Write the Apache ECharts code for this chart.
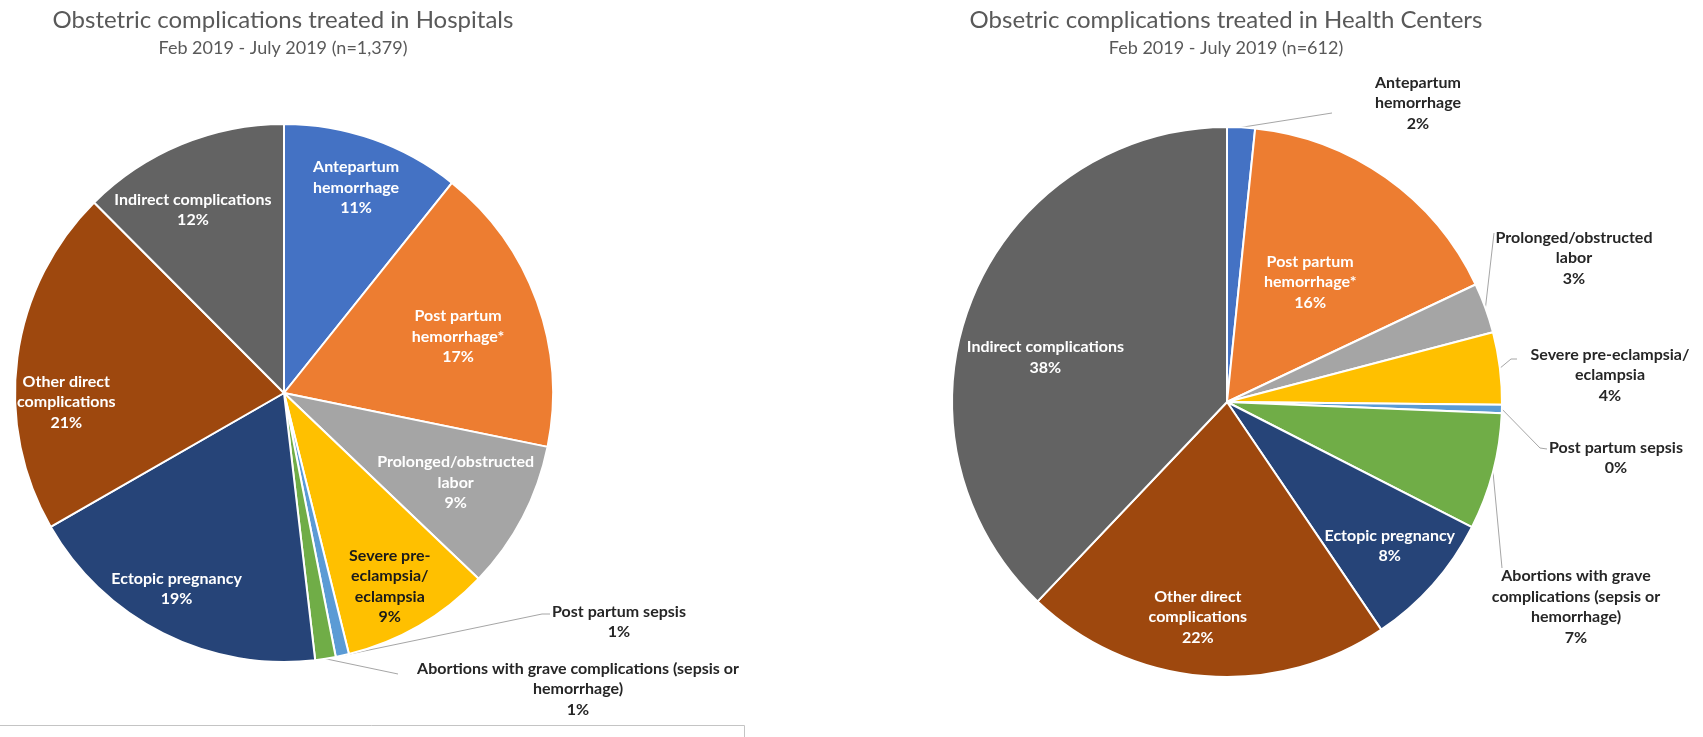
<!DOCTYPE html>
<html>
<head>
<meta charset="utf-8">
<title>Obstetric complications treated</title>
<script src="https://cdn.jsdelivr.net/npm/echarts@6/dist/echarts.min.js"></script>
<style>
  html, body { margin: 0; padding: 0; background: #ffffff; }
  #chart { width: 1703px; height: 737px; }
</style>
</head>
<body>
<div id="chart"></div>
<script>
// Complication categories, in clockwise order from 12 o'clock
const categories = [
  'Antepartum hemorrhage',
  'Post partum hemorrhage*',
  'Prolonged/obstructed labor',
  'Severe pre-eclampsia/eclampsia',
  'Post partum sepsis',
  'Abortions with grave complications (sepsis or hemorrhage)',
  'Ectopic pregnancy',
  'Other direct complications',
  'Indirect complications'
];

// Cases treated, Feb 2019 - July 2019
const hospitalCounts = [148, 241, 123, 124, 11, 17, 256, 287, 172];      // n = 1,379
const healthCenterCounts = [10, 100, 18, 26, 3, 42, 49, 132, 232];      // n = 612

// Label text (line-wrapped) for each pie
const hospitalLabels = [
  'Antepartum\nhemorrhage',
  'Post partum\nhemorrhage*',
  'Prolonged/obstructed\nlabor',
  'Severe pre-\neclampsia/\neclampsia',
  'Post partum sepsis',
  'Abortions with grave complications (sepsis or\nhemorrhage)',
  'Ectopic pregnancy',
  'Other direct\ncomplications',
  'Indirect complications'
];
const healthCenterLabels = [
  'Antepartum\nhemorrhage',
  'Post partum\nhemorrhage*',
  'Prolonged/obstructed\nlabor',
  'Severe pre-eclampsia/\neclampsia',
  'Post partum sepsis',
  'Abortions with grave\ncomplications (sepsis or\nhemorrhage)',
  'Ectopic pregnancy',
  'Other direct\ncomplications',
  'Indirect complications'
];

const sliceColors = ['#4472C4', '#ED7D31', '#A5A5A5', '#FFC000', '#5B9BD5',
                     '#70AD47', '#264478', '#9E480E', '#636363'];

// Layout of each pie and its labels.
// inside: index -> [fraction of radius, angle shift in degrees from slice middle]
// outside: index -> label block centre and leader-line points after the slice edge
const pies = [
  {
    title: 'Obstetric complications treated in Hospitals',
    subtitle: 'Feb 2019 - July 2019 (n=1,379)',
    center: [284, 393], radius: 269,
    counts: hospitalCounts, labels: hospitalLabels,
    inside: { 0: [0.81, 0], 1: [0.68, 2], 2: [0.72, 0], 3: [0.82, 1.5],
              6: [0.83, 2], 7: [0.81, -10], 8: [0.76, -4] },
    darkInside: [3],
    outside: {
      4: { x: 619, y: 622, line: [[542, 614], [550, 614]] },
      5: { x: 578, y: 689, line: [[398, 674]] }
    }
  },
  {
    title: 'Obsetric complications treated in Health Centers',
    subtitle: 'Feb 2019 - July 2019 (n=612)',
    center: [1227, 402], radius: 275,
    counts: healthCenterCounts, labels: healthCenterLabels,
    inside: { 1: [0.53, -0.5], 6: [0.79, 0], 7: [0.79, 3], 8: [0.68, -8] },
    darkInside: [],
    outside: {
      0: { x: 1418, y: 103, line: [[1332, 113]] },
      2: { x: 1574, y: 258, line: [[1494, 233]] },
      3: { x: 1610, y: 375, line: [[1511, 359], [1517, 359]] },
      4: { x: 1616, y: 458, line: [[1540, 448], [1547, 449]] },
      5: { x: 1576, y: 607, line: [[1502, 568]] }
    }
  }
];

const FONT = 'Lato, "Open Sans", "Noto Sans", sans-serif';

// Middle angle of a slice, clockwise from 12 o'clock, in radians
function midAngle(counts, idx) {
  const total = counts.reduce((a, b) => a + b, 0);
  let before = 0;
  for (let i = 0; i < idx; i++) before += counts[i];
  return (before + counts[idx] / 2) / total * Math.PI * 2;
}

function pointAt(pie, angle, dist) {
  return [pie.center[0] + dist * Math.sin(angle), pie.center[1] - dist * Math.cos(angle)];
}

function makeLabelLayout(pie) {
  return function (params) {
    const i = params.dataIndex;
    const a = midAngle(pie.counts, i);
    if (pie.inside[i]) {
      const [f, shift] = pie.inside[i];
      const p = pointAt(pie, a + shift * Math.PI / 180, f * pie.radius);
      return { x: p[0], y: p[1], align: 'center', verticalAlign: 'middle' };
    }
    const o = pie.outside[i];
    const edge = pointAt(pie, a, pie.radius);
    return {
      x: o.x, y: o.y, align: 'center', verticalAlign: 'middle',
      labelLinePoints: [edge].concat(o.line)
    };
  };
}

function makeSeries(pie) {
  return {
    type: 'pie',
    center: pie.center,
    radius: [0, pie.radius],
    startAngle: 90,
    clockwise: true,
    avoidLabelOverlap: false,
    silent: true,
    animation: false,
    itemStyle: { borderColor: '#ffffff', borderWidth: 2 },
    label: {
      show: true,
      position: 'inside',
      fontFamily: FONT,
      fontWeight: 'bold',
      fontSize: 16,
      lineHeight: 20.5,
      color: '#ffffff',
      align: 'center',
      formatter: p => p.data.text + '\n' + Math.round(p.percent) + '%'
    },
    labelLine: { show: false },
    labelLayout: makeLabelLayout(pie),
    data: categories.map((name, i) => {
      const item = {
        name: name,
        value: pie.counts[i],
        text: pie.labels[i],
        itemStyle: { color: sliceColors[i] }
      };
      if (pie.outside[i]) {
        item.label = { position: 'outside', color: '#262626' };
        item.labelLine = {
          show: true, length: 10, length2: 10, smooth: false,
          lineStyle: { color: '#a6a6a6', width: 1 }
        };
      } else if (pie.darkInside.indexOf(i) >= 0) {
        item.label = { color: '#1a1a1a' };
      }
      return item;
    })
  };
}

const chart = echarts.init(document.getElementById('chart'), null, { renderer: 'canvas' });

chart.setOption({
  backgroundColor: '#ffffff',
  animation: false,
  title: pies.map(pie => ({
    text: pie.title,
    subtext: pie.subtitle,
    left: pie.center[0] - 1,
    textAlign: 'center',
    top: 6,
    padding: 0,
    itemGap: 4,
    textStyle: { fontFamily: FONT, fontWeight: 'normal', fontSize: 24, lineHeight: 28, color: '#595959' },
    subtextStyle: { fontFamily: FONT, fontWeight: 'normal', fontSize: 18, lineHeight: 20, color: '#595959' }
  })),
  graphic: [{
    type: 'rect',
    silent: true,
    shape: { x: -2, y: 725.5, width: 746.5, height: 30 },
    style: { fill: 'none', stroke: '#c4c4c4', lineWidth: 1 }
  }],
  series: pies.map(makeSeries)
});
</script>
</body>
</html>
